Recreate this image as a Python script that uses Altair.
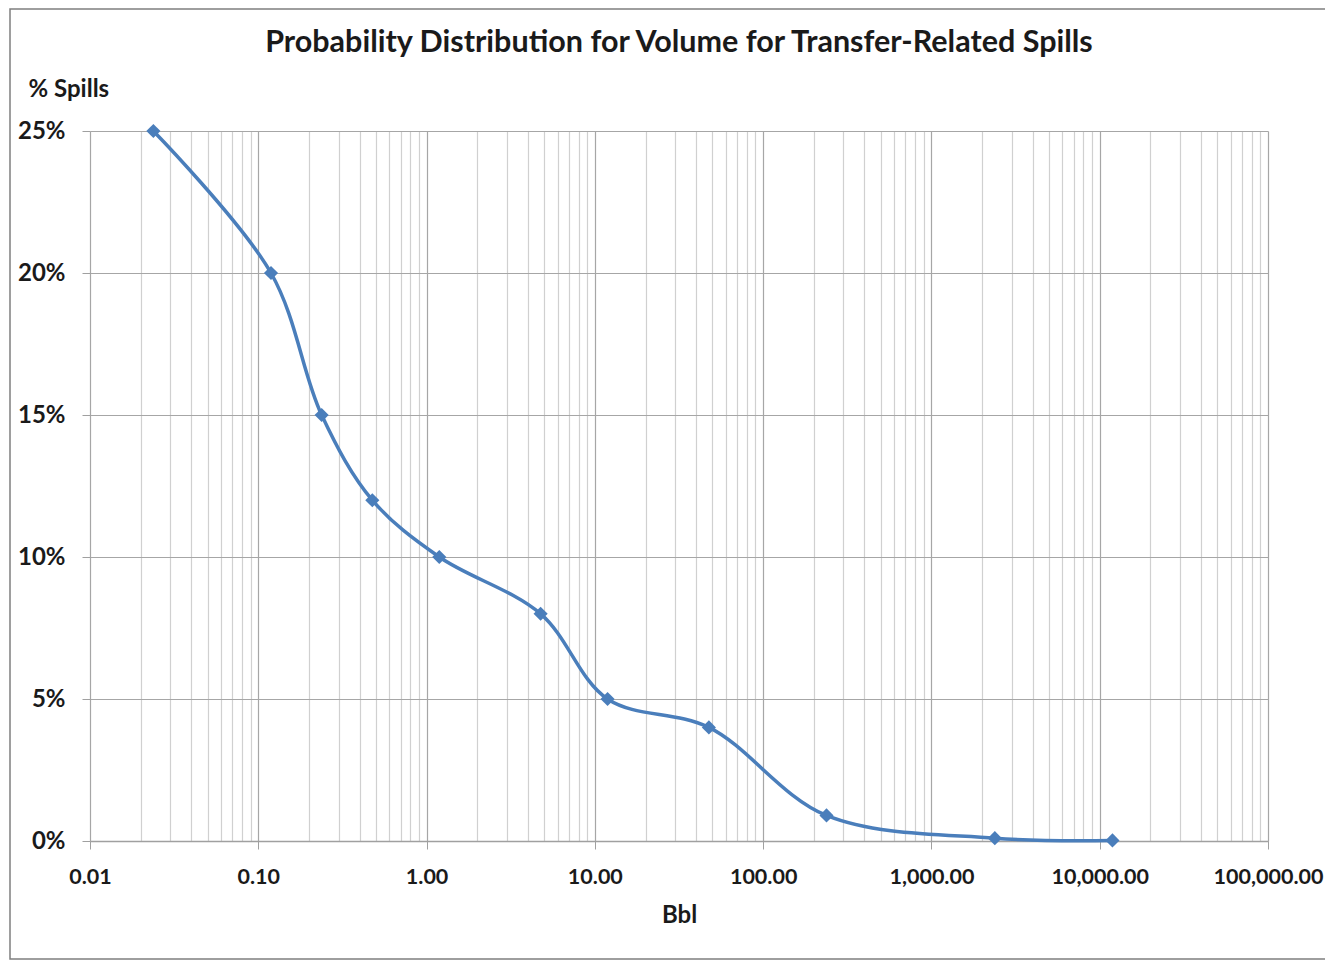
import altair as alt
import pandas as pd

# Data (volume in barrels, share of spills)
volume_bbl = [0.0238, 0.119, 0.238, 0.476, 1.19, 4.76, 11.9, 47.6, 238, 2381, 11905]
pct_spills = [0.25, 0.20, 0.15, 0.12, 0.10, 0.08, 0.05, 0.04, 0.009, 0.001, 0.0002]

# Axis ticks
decades = [0.01, 0.1, 1, 10, 100, 1000, 10000, 100000]
minor_mult = [1, 2, 3, 4, 5, 6, 7, 8, 9]
y_ticks = [0, 0.05, 0.10, 0.15, 0.20, 0.25]

x_values = []
for d in decades[:-1]:
    for m in minor_mult:
        x_values.append(round(d * m, 6))
x_values.append(decades[-1])

df = pd.DataFrame({"Bbl": volume_bbl, "pct": pct_spills})

FONT = "Lato"
BLUE = "#4a7ebb"
TXT = "#1a1a1a"
is_major = "abs(log(datum.value)/LN10 - round(log(datum.value)/LN10)) < 1e-6"

x_enc = alt.X(
    "Bbl:Q",
    scale=alt.Scale(type="log", domain=[0.01, 100000], nice=False),
    axis=alt.Axis(
        values=x_values,
        labelExpr=f"({is_major}) ? format(datum.value, ',.2f') : ''",
        title="Bbl",
        titleFont=FONT,
        titleFontSize=24,
        titleFontWeight="bold",
        titleColor=TXT,
        titleBaseline="middle",
        titleY=74,
        labelFont=FONT,
        labelFontSize=21.5,
        labelFontWeight="bold",
        labelColor=TXT,
        labelBaseline="middle",
        labelPadding=28,
        labelOverlap=False,
        labelFlush=False,
        tickSize=8,
        tickColor={"condition": {"test": is_major, "value": "#a0a0a0"}, "value": "transparent"},
        gridColor={"condition": {"test": is_major, "value": "#a6a6a6"}, "value": "#d0d0d0"},
        gridWidth=1.2,
        domainColor="#a0a0a0",
        domainWidth=1.5,
    ),
)

y_enc = alt.Y(
    "pct:Q",
    scale=alt.Scale(domain=[0, 0.25], nice=False),
    axis=alt.Axis(
        values=y_ticks,
        format=".0%",
        title="% Spills",
        titleAngle=0,
        titleAlign="left",
        titleBaseline="middle",
        titleX=-62,
        titleY=-42,
        titleFont=FONT,
        titleFontSize=24,
        titleFontWeight="bold",
        titleColor=TXT,
        labelFont=FONT,
        labelFontSize=24,
        labelFontWeight="bold",
        labelColor=TXT,
        labelPadding=17,
        tickSize=8,
        tickColor="#a0a0a0",
        gridColor="#a6a6a6",
        gridWidth=1.2,
        domain=False,
    ),
)

base = alt.Chart(df)

line = base.mark_line(
    interpolate="catmull-rom", color=BLUE, strokeWidth=3.5, clip=False
).encode(x=x_enc, y=y_enc)

points = base.mark_point(
    shape="diamond", filled=True, color=BLUE, size=200, opacity=1
).encode(x="Bbl:Q", y="pct:Q")

frame = alt.Chart(pd.DataFrame({"f": [0]})).mark_rect(
    fill=None, stroke="#7f7f7f", strokeWidth=1.5, clip=False
).encode(
    x=alt.value(-80), x2=alt.value(1300),
    y=alt.value(-122), y2=alt.value(828),
)

chart = alt.layer(line, points, frame).properties(
    width=1178,
    height=710,
    padding={"left": 82, "top": 123, "right": 57, "bottom": 121},
    autosize=alt.AutoSizeParams(type="none"),
    title=alt.TitleParams(
        "Probability Distribution for Volume for Transfer-Related Spills",
        font=FONT,
        fontSize=30.5,
        fontWeight="bold",
        color=TXT,
        anchor="middle",
        frame="group",
        offset=0,
        dy=50,
    ),
).configure_view(stroke=None)

chart.save("out.html", embed_options={"renderer": "svg", "actions": False})
